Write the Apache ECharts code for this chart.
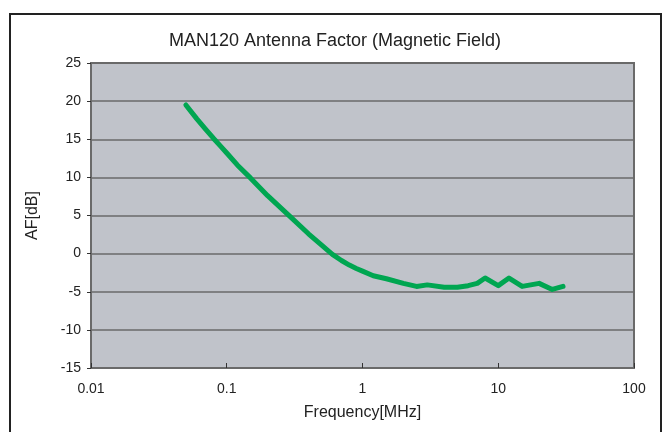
<!DOCTYPE html>
<html>
<head>
<meta charset="utf-8">
<script src="https://cdn.jsdelivr.net/npm/echarts@6/dist/echarts.min.js"></script>
<style>
html,body{margin:0;padding:0;background:#fff;}
#chart{width:670px;height:432px;}
</style>
</head>
<body>
<div id="chart"></div>
<script>
const frequencies = [0.05,0.06,0.07,0.08,0.09,0.1,0.12,0.15,0.2,0.25,0.3,0.4,0.5,0.6,0.7,0.8,0.9,1,1.2,1.5,2,2.5,3,4,5,6,7,8,10,12,15,20,25,30];
const afValues =    [19.5,17.7,16.3,15.1,14.1,13.2,11.6,9.9,7.6,6.0,4.7,2.6,1.1,-0.1,-0.9,-1.5,-1.95,-2.3,-2.9,-3.3,-3.9,-4.3,-4.1,-4.4,-4.4,-4.2,-3.9,-3.2,-4.2,-3.2,-4.3,-3.9,-4.7,-4.3];
const yTicks = {min:-15, max:25, interval:5};
const xRange = {min:0.01, max:100};

const font = 'Liberation Sans';
const chart = echarts.init(document.getElementById('chart'));
chart.setOption({
  animation:false,
  title:{text:'MAN120 Antenna Factor (Magnetic Field)',left:'center',top:27,
    textStyle:{fontFamily:font,fontSize:18,fontWeight:'normal',color:'#222'}},
  graphic:[{type:'rect',shape:{x:10,y:14,width:651,height:440},
    style:{fill:'none',stroke:'#222',lineWidth:2},silent:true}],
  grid:{left:91,right:36,top:63,bottom:64,show:true,backgroundColor:'#c0c3ca',borderColor:'#6a6a6a',borderWidth:2},
  xAxis:{type:'log',logBase:10,min:xRange.min,max:xRange.max,
    name:'Frequency[MHz]',nameLocation:'middle',nameGap:37,
    nameTextStyle:{fontFamily:font,fontSize:16,color:'#222'},
    axisLine:{show:true,onZero:false,lineStyle:{color:'#6a6a6a',width:2}},
    axisTick:{show:true,inside:true,length:5,lineStyle:{color:'#333'}},
    minorTick:{show:false},
    splitLine:{show:false},
    axisLabel:{fontFamily:font,fontSize:14,color:'#222',margin:14,
      formatter:function(v){return String(v);}}},
  yAxis:{type:'value',min:yTicks.min,max:yTicks.max,interval:yTicks.interval,
    name:'AF[dB]',nameLocation:'middle',nameGap:50,nameRotate:90,
    nameTextStyle:{fontFamily:font,fontSize:16,color:'#222'},
    axisLine:{show:true,lineStyle:{color:'#6a6a6a',width:2}},
    axisTick:{show:true,length:4,lineStyle:{color:'#333'}},
    splitLine:{show:true,lineStyle:{color:'#6a6a6a',width:1.5}},
    axisLabel:{fontFamily:font,fontSize:14,color:'#222',margin:10}},
  series:[{type:'line',data:frequencies.map((f,i)=>[f,afValues[i]]),
    showSymbol:false,smooth:false,
    lineStyle:{color:'#00a651',width:5,cap:'round',join:'round'}}]
});
</script>
</body>
</html>
